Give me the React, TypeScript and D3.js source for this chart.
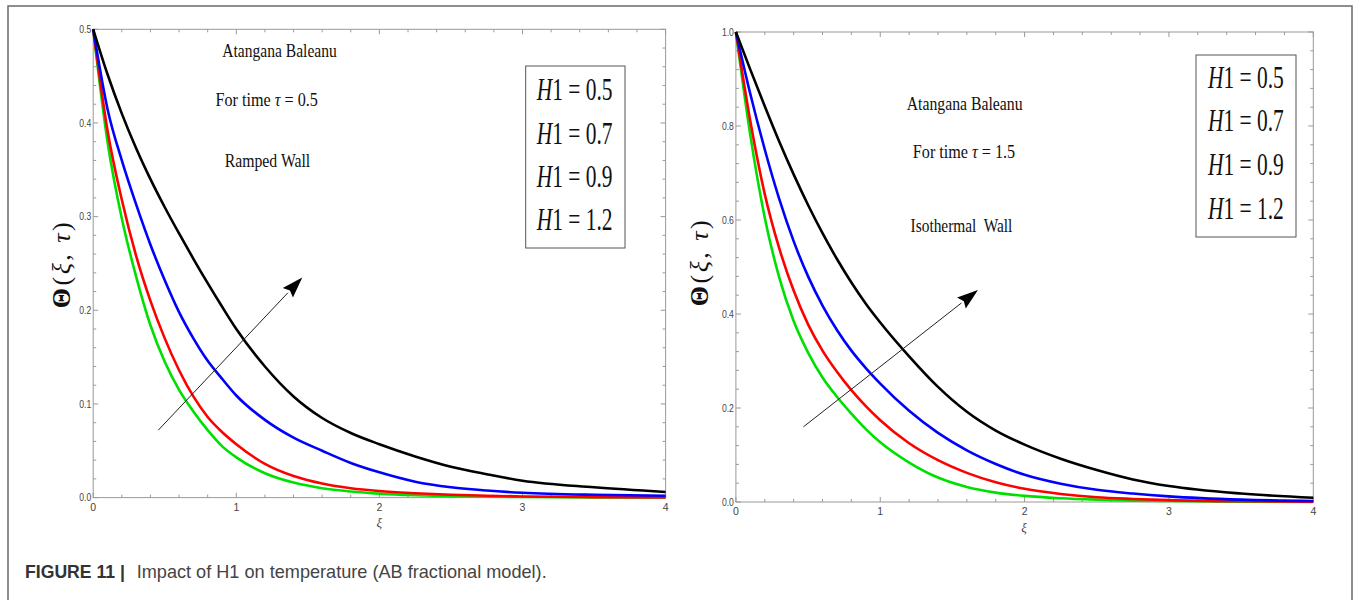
import React from 'react';
import * as d3 from 'd3';

// xi sample points shared by every curve
const xiGrid = [0, 0.1, 0.2, 0.3, 0.4, 0.5, 0.6, 0.7, 0.8, 0.9, 1.0, 1.2, 1.4, 1.6, 1.8, 2.0, 2.25, 2.5, 2.75, 3.0, 3.5, 4.0];

// Ramped wall, tau = 0.5
const rampedH05 = [0.5, 0.38, 0.298, 0.236, 0.184, 0.145, 0.115, 0.092, 0.072, 0.055, 0.043, 0.026, 0.016, 0.01, 0.0065, 0.0042, 0.0025, 0.0015, 0.001, 0.0006, 0.0002, 0.0001];
const rampedH07 = [0.5, 0.392, 0.318, 0.258, 0.21, 0.17, 0.136, 0.108, 0.086, 0.07, 0.057, 0.036, 0.023, 0.015, 0.01, 0.007, 0.0047, 0.003, 0.002, 0.0012, 0.0005, 0.0002];
const rampedH09 = [0.5, 0.415, 0.36, 0.313, 0.27, 0.232, 0.198, 0.17, 0.146, 0.127, 0.109, 0.083, 0.064, 0.05, 0.037, 0.027, 0.017, 0.011, 0.0075, 0.0052, 0.003, 0.002];
const rampedH12 = [0.5, 0.452, 0.41, 0.373, 0.34, 0.31, 0.282, 0.255, 0.229, 0.204, 0.18, 0.14, 0.108, 0.085, 0.069, 0.057, 0.044, 0.033, 0.025, 0.018, 0.011, 0.006];

// Isothermal wall, tau = 1.5
const isoH05 = [1.0, 0.78, 0.605, 0.478, 0.385, 0.318, 0.265, 0.224, 0.188, 0.155, 0.127, 0.084, 0.052, 0.032, 0.02, 0.013, 0.008, 0.005, 0.003, 0.002, 0.0008, 0.0003];
const isoH07 = [1.0, 0.81, 0.655, 0.54, 0.45, 0.378, 0.322, 0.277, 0.238, 0.204, 0.174, 0.125, 0.089, 0.062, 0.042, 0.028, 0.017, 0.01, 0.0065, 0.004, 0.0015, 0.0006];
const isoH09 = [1.0, 0.868, 0.75, 0.645, 0.555, 0.48, 0.418, 0.366, 0.322, 0.285, 0.252, 0.194, 0.147, 0.11, 0.081, 0.058, 0.039, 0.026, 0.018, 0.012, 0.005, 0.002];
const isoH12 = [1.0, 0.92, 0.842, 0.767, 0.697, 0.632, 0.572, 0.517, 0.467, 0.422, 0.382, 0.31, 0.245, 0.192, 0.152, 0.122, 0.092, 0.068, 0.048, 0.034, 0.018, 0.009];

const h1Values = ['0.5', '0.7', '0.9', '1.2'];
const xTicks = [0, 1, 2, 3, 4];
const rampedYTicks = [0, 0.1, 0.2, 0.3, 0.4, 0.5];
const isoYTicks = [0, 0.2, 0.4, 0.6, 0.8, 1.0];

// arrow annotation, [xi, theta] of tail and head
const rampedArrow = [[0.455, 0.072], [1.461, 0.235]];
const isoArrow = [[0.468, 0.16], [1.677, 0.451]];

const lineColors = ['#00e000', '#ff0000', '#0000ff', '#000000'];

const serif = 'Liberation Serif, Times New Roman, serif';
const sans = 'Liberation Sans, Arial, sans-serif';

type PanelProps = {
  xRange: [number, number];
  yRange: [number, number];
  yMax: number;
  yTicks: number[];
  yMinor: number;
  series: number[][];
  arrow: number[][];
  notes: { text: React.ReactNode; x: number; y: number; sx: number }[];
  legend: { x: number; y: number; w: number; h: number; tx: number; rows: number[] };
  yLabel: [number, number];
  xLabel: [number, number];
};

const Panel = (p: PanelProps) => {
  const x = d3.scaleLinear().domain([0, 4]).range(p.xRange);
  const y = d3.scaleLinear().domain([0, p.yMax]).range(p.yRange);
  const line = d3
    .line<number>()
    .x((_, i) => x(xiGrid[i]))
    .y(d => y(d))
    .curve(d3.curveMonotoneX);

  const [x0, x1] = p.xRange;
  const [y0, y1] = p.yRange;
  const xMinor = d3.range(0, 4.0001, 0.2);
  const yMinor = d3.range(0, p.yMax + 1e-6, p.yMinor);

  // arrow geometry
  const ax0 = x(p.arrow[0][0]), ay0 = y(p.arrow[0][1]);
  const ax1 = x(p.arrow[1][0]), ay1 = y(p.arrow[1][1]);
  const dx = ax1 - ax0, dy = ay1 - ay0;
  const L = Math.hypot(dx, dy);
  const ux = dx / L, uy = dy / L;
  const headLen = 21, headW = 7;
  const bx = ax1 - ux * headLen, by = ay1 - uy * headLen;
  const head = [
    [ax1, ay1],
    [bx - uy * headW, by + ux * headW],
    [bx + ux * 3, by + uy * 3],
    [bx + uy * headW, by - ux * headW],
  ];

  return (
    <g>
      <rect x={x0} y={y1} width={x1 - x0} height={y0 - y1} fill="none" stroke="#999" strokeWidth={1} />
      {xMinor.map((t, i) => {
        const major = Math.abs(t - Math.round(t)) < 1e-6;
        const len = major ? 5 : 3;
        return (
          <g key={'xt' + i} stroke="#999" strokeWidth={1}>
            <line x1={x(t)} x2={x(t)} y1={y0} y2={y0 - len} />
            <line x1={x(t)} x2={x(t)} y1={y1} y2={y1 + len} />
          </g>
        );
      })}
      {yMinor.map((t, i) => {
        const major = p.yTicks.some(v => Math.abs(v - t) < 1e-6);
        const len = major ? 5 : 3;
        return (
          <g key={'yt' + i} stroke="#999" strokeWidth={1}>
            <line x1={x0} x2={x0 + len} y1={y(t)} y2={y(t)} />
            <line x1={x1} x2={x1 - len} y1={y(t)} y2={y(t)} />
          </g>
        );
      })}
      {xTicks.map(t => (
        <text key={'xl' + t} x={x(t)} y={y0 + 13} fontSize={10.5} fontFamily={sans} fill="#444" textAnchor="middle">
          {t}
        </text>
      ))}
      {p.yTicks.map(t => (
        <text key={'yl' + t} x={x0 - 2} y={y(t)} dy="0.35em" fontSize={10.5} fontFamily={sans} fill="#444" textAnchor="end" textLength={12} lengthAdjust="spacingAndGlyphs">
          {t.toFixed(1)}
        </text>
      ))}
      {p.series.map((s, i) => (
        <path key={'s' + i} d={line(s) || ''} fill="none" stroke={lineColors[i]} strokeWidth={2.6} />
      ))}
      <line x1={ax0} y1={ay0} x2={bx} y2={by} stroke="#222" strokeWidth={1} />
      <polygon points={head.map(q => q.join(',')).join(' ')} fill="#000" />
      {p.notes.map((n, i) => (
        <text key={'n' + i} transform={`translate(${n.x},${n.y}) scale(${n.sx},1)`} fontSize={19} fontFamily={serif} fill="#111" textAnchor="middle">
          {n.text}
        </text>
      ))}
      <rect x={p.legend.x} y={p.legend.y} width={p.legend.w} height={p.legend.h} fill="#fff" stroke="#555" strokeWidth={1} />
      {h1Values.map((v, i) => (
        <text key={'lg' + i} transform={`translate(${p.legend.tx},${p.legend.rows[i]}) scale(0.67,1)`} fontSize={32} fontFamily={serif} fill="#111">
          <tspan fontStyle="italic">H</tspan>1 = {v}
        </text>
      ))}
      <text
        transform={`translate(${p.yLabel[0]},${p.yLabel[1]}) rotate(-90)`}
        textAnchor="middle"
        dy="0.35em"
        fontSize={26}
        fontFamily={serif}
        fill="#111"
        letterSpacing={2.5}
      >
        <tspan fontWeight="bold">Θ</tspan>(<tspan fontStyle="italic">ξ</tspan>, <tspan fontStyle="italic">τ</tspan>)
      </text>
      <text x={p.xLabel[0]} y={p.xLabel[1]} fontSize={13} fontFamily={serif} fontStyle="italic" fill="#444" textAnchor="middle">
        ξ
      </text>
    </g>
  );
};

export default function App() {
  return (
    <svg width={1354} height={600} style={{ position: 'absolute', left: 0, top: 0, background: '#fff' }}>
      <rect x={0} y={0} width={1354} height={600} fill="#fff" />
      <path d="M8,600 V6 H1352 V600" fill="none" stroke="#6a6a6a" strokeWidth={1.5} />
      <Panel
        xRange={[93.2, 665.6]}
        yRange={[497.6, 29.3]}
        yMax={0.5}
        yTicks={rampedYTicks}
        yMinor={0.02}
        series={[rampedH05, rampedH07, rampedH09, rampedH12]}
        arrow={rampedArrow}
        notes={[
          { text: 'Atangana Baleanu', x: 279.5, y: 57, sx: 0.82 },
          { text: <>For time <tspan fontStyle="italic">τ</tspan> = 0.5</>, x: 266.7, y: 105.5, sx: 0.85 },
          { text: 'Ramped Wall', x: 267.5, y: 167, sx: 0.83 },
        ]}
        legend={{ x: 525.7, y: 66, w: 99.3, h: 182, tx: 536.7, rows: [100, 144, 186.7, 230] }}
        yLabel={[60.5, 264]}
        xLabel={[379.4, 527]}
      />
      <Panel
        xRange={[735.9, 1313.3]}
        yRange={[502, 32]}
        yMax={1.0}
        yTicks={isoYTicks}
        yMinor={0.04}
        series={[isoH05, isoH07, isoH09, isoH12]}
        arrow={isoArrow}
        notes={[
          { text: 'Atangana Baleanu', x: 964.6, y: 109.5, sx: 0.83 },
          { text: <>For time <tspan fontStyle="italic">τ</tspan> = 1.5</>, x: 964, y: 158.4, sx: 0.85 },
          { text: 'Isothermal\u00a0 Wall', x: 961.5, y: 232.4, sx: 0.81 },
        ]}
        legend={{ x: 1196, y: 55, w: 100, h: 182, tx: 1208, rows: [87.8, 130.9, 175, 219] }}
        yLabel={[699, 262]}
        xLabel={[1024, 532]}
      />
      <text x={25} y={578} fontSize={18.5} fontFamily={sans} fontWeight="bold" fill="#333" textLength={100} lengthAdjust="spacingAndGlyphs">
        FIGURE 11 |
      </text>
      <text x={136.7} y={578} fontSize={18.5} fontFamily={sans} fill="#444" textLength={410} lengthAdjust="spacingAndGlyphs">
        Impact of H1 on temperature (AB fractional model).
      </text>
    </svg>
  );
}
